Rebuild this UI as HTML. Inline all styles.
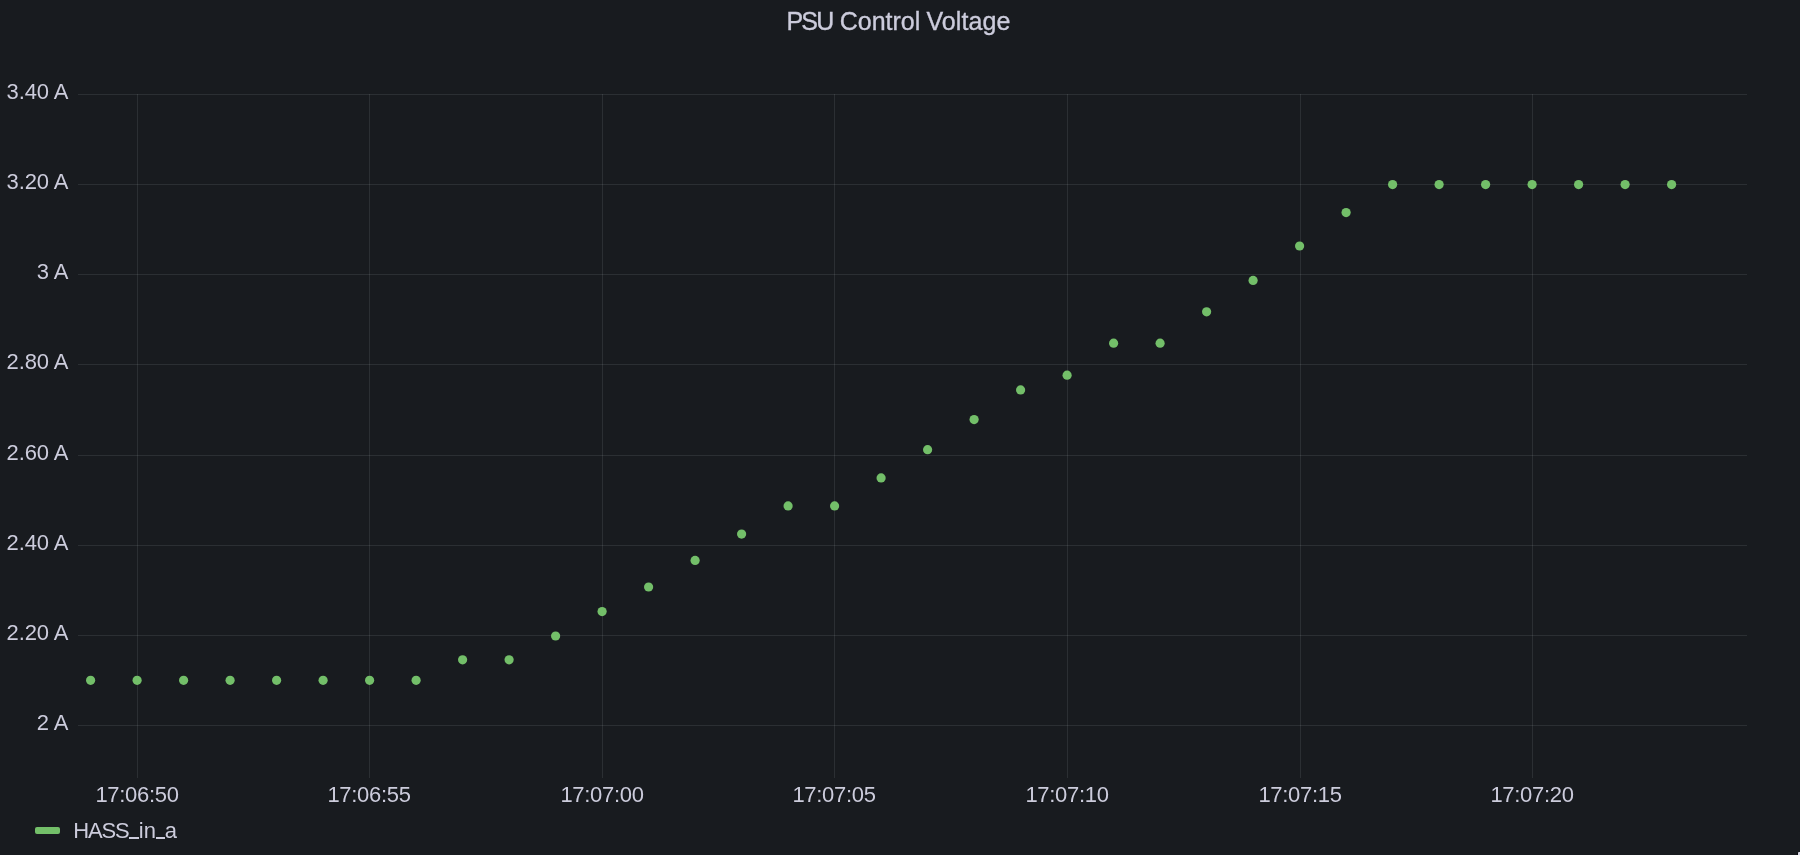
<!DOCTYPE html>
<html><head><meta charset="utf-8"><style>
html,body{margin:0;padding:0;background:#181b1f;width:1800px;height:855px;overflow:hidden}
body{position:relative;will-change:transform;font-family:"Liberation Sans",sans-serif;color:rgb(204,204,220)}
.t{position:absolute;top:9px;font-size:25px;line-height:1;white-space:pre;-webkit-text-stroke:0.35px rgb(204,204,220)}
.yl{position:absolute;left:0;width:68.3px;text-align:right;font-size:22px;letter-spacing:-0.1px;line-height:1;white-space:pre}
.xl{position:absolute;width:200px;text-align:center;top:784px;font-size:22px;letter-spacing:-0.3px;line-height:1;white-space:pre}
.leg{position:absolute;top:820px;font-size:22px;line-height:1;white-space:pre}
.us{position:absolute;top:837.3px;width:9.6px;height:1.7px;background:rgb(204,204,220)}
.mk{position:absolute;left:35px;top:827px;width:25px;height:7px;border-radius:2px;background:#73bf69}
svg{position:absolute;left:0;top:0}
</style></head><body>
<svg width="1800" height="855" viewBox="0 0 1800 855">
<g stroke="rgba(240,250,255,0.09)" stroke-width="1" fill="none">
<line x1="78" y1="94.5" x2="1747" y2="94.5"/>
<line x1="78" y1="184.5" x2="1747" y2="184.5"/>
<line x1="78" y1="274.5" x2="1747" y2="274.5"/>
<line x1="78" y1="364.5" x2="1747" y2="364.5"/>
<line x1="78" y1="455.5" x2="1747" y2="455.5"/>
<line x1="78" y1="545.5" x2="1747" y2="545.5"/>
<line x1="78" y1="635.5" x2="1747" y2="635.5"/>
<line x1="78" y1="725.5" x2="1747" y2="725.5"/>
<line x1="137.5" y1="94" x2="137.5" y2="778"/>
<line x1="369.5" y1="94" x2="369.5" y2="778"/>
<line x1="602.5" y1="94" x2="602.5" y2="778"/>
<line x1="834.5" y1="94" x2="834.5" y2="778"/>
<line x1="1067.5" y1="94" x2="1067.5" y2="778"/>
<line x1="1300.5" y1="94" x2="1300.5" y2="778"/>
<line x1="1532.5" y1="94" x2="1532.5" y2="778"/>
</g>
<g fill="#73bf69">
<circle cx="90.6" cy="680.3" r="4.6"/>
<circle cx="137.1" cy="680.3" r="4.6"/>
<circle cx="183.6" cy="680.3" r="4.6"/>
<circle cx="230.1" cy="680.3" r="4.6"/>
<circle cx="276.6" cy="680.3" r="4.6"/>
<circle cx="323.1" cy="680.3" r="4.6"/>
<circle cx="369.6" cy="680.3" r="4.6"/>
<circle cx="416.1" cy="680.3" r="4.6"/>
<circle cx="462.6" cy="659.8" r="4.6"/>
<circle cx="509.1" cy="659.8" r="4.6"/>
<circle cx="555.6" cy="636.0" r="4.6"/>
<circle cx="602.1" cy="611.6" r="4.6"/>
<circle cx="648.6" cy="587.0" r="4.6"/>
<circle cx="695.1" cy="560.4" r="4.6"/>
<circle cx="741.6" cy="534.1" r="4.6"/>
<circle cx="788.1" cy="505.9" r="4.6"/>
<circle cx="834.6" cy="505.9" r="4.6"/>
<circle cx="881.1" cy="477.9" r="4.6"/>
<circle cx="927.6" cy="449.7" r="4.6"/>
<circle cx="974.1" cy="419.6" r="4.6"/>
<circle cx="1020.6" cy="389.9" r="4.6"/>
<circle cx="1067.1" cy="375.2" r="4.6"/>
<circle cx="1113.6" cy="343.2" r="4.6"/>
<circle cx="1160.1" cy="343.2" r="4.6"/>
<circle cx="1206.6" cy="311.8" r="4.6"/>
<circle cx="1253.1" cy="280.4" r="4.6"/>
<circle cx="1299.6" cy="246.0" r="4.6"/>
<circle cx="1346.1" cy="212.6" r="4.6"/>
<circle cx="1392.6" cy="184.6" r="4.6"/>
<circle cx="1439.1" cy="184.6" r="4.6"/>
<circle cx="1485.6" cy="184.6" r="4.6"/>
<circle cx="1532.1" cy="184.6" r="4.6"/>
<circle cx="1578.6" cy="184.6" r="4.6"/>
<circle cx="1625.1" cy="184.6" r="4.6"/>
<circle cx="1671.6" cy="184.6" r="4.6"/>
</g>
</svg>
<div class="t" style="left:786.4px;letter-spacing:-1.8px">PSU</div>
<div class="t" style="left:839.7px">Control</div>
<div class="t" style="left:926.4px;letter-spacing:0.1px">Voltage</div>
<div class="yl" style="top:81.1px">3.40 A</div>
<div class="yl" style="top:171.1px">3.20 A</div>
<div class="yl" style="top:261.1px">3 A</div>
<div class="yl" style="top:351.1px">2.80 A</div>
<div class="yl" style="top:442.1px">2.60 A</div>
<div class="yl" style="top:532.1px">2.40 A</div>
<div class="yl" style="top:622.1px">2.20 A</div>
<div class="yl" style="top:712.1px">2 A</div>
<div class="xl" style="left:37.0px">17:06:50</div>
<div class="xl" style="left:269.0px">17:06:55</div>
<div class="xl" style="left:502.0px">17:07:00</div>
<div class="xl" style="left:734.0px">17:07:05</div>
<div class="xl" style="left:967.0px">17:07:10</div>
<div class="xl" style="left:1200.0px">17:07:15</div>
<div class="xl" style="left:1432.0px">17:07:20</div>
<div class="mk"></div>
<div class="leg" style="left:73.3px;letter-spacing:-1.2px">HASS</div>
<div class="us" style="left:129px"></div>
<div class="leg" style="left:138.8px">in</div>
<div class="us" style="left:155.8px"></div>
<div class="leg" style="left:164.8px">a</div>
<div style="position:absolute;left:1797px;top:852.5px;width:1px;height:2.5px;background:#0a0b0e"></div>
<div style="position:absolute;left:1797.8px;top:851.8px;width:2.2px;height:3.2px;background:#dcdcea;border-top-left-radius:1px"></div>
</body></html>
